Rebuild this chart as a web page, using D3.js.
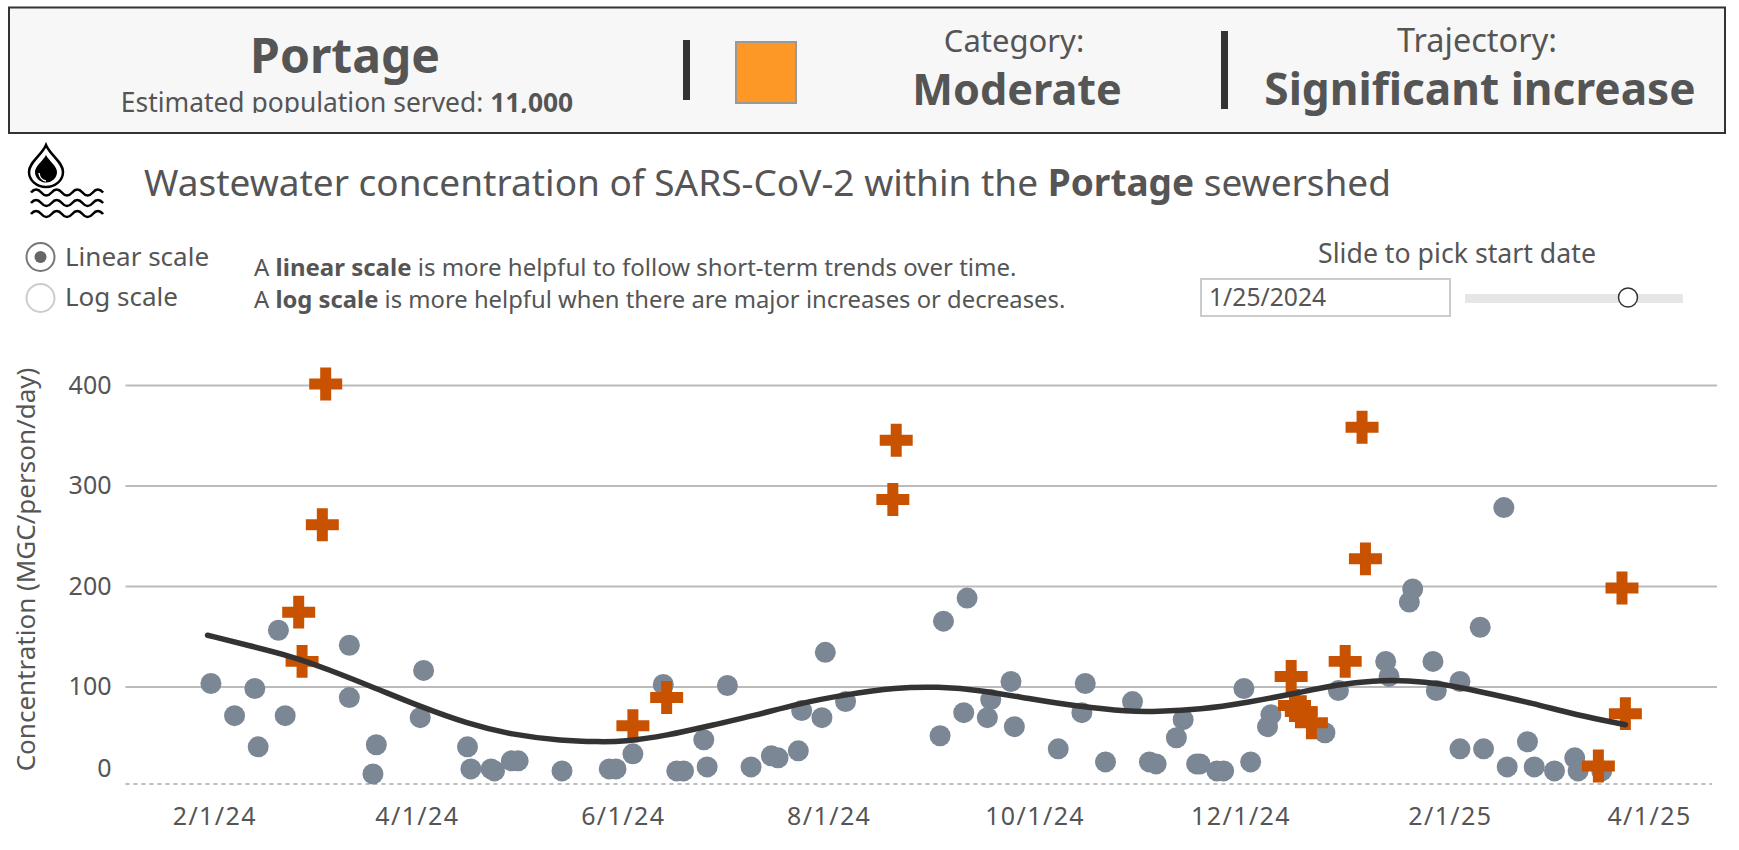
<!DOCTYPE html>
<html>
<head>
<meta charset="utf-8">
<script src="https://cdn.jsdelivr.net/npm/d3@7"></script>
<style>
    body { margin: 0; background: #fff; }
    svg text { font-family: "Noto Sans", sans-serif; fill: #555; }
</style>
</head>
<body>
<div id="chart"></div>
<script>
// values
const dotDates = ["2024-01-31","2024-02-07","2024-02-13","2024-02-14","2024-02-20","2024-02-22","2024-03-12","2024-03-12","2024-03-20","2024-03-19","2024-04-03","2024-04-02","2024-04-16","2024-04-17","2024-04-23","2024-04-24","2024-04-29","2024-05-01","2024-05-14",
    "2024-05-28","2024-05-30","2024-06-04","2024-06-13","2024-06-17","2024-06-19","2024-06-25","2024-06-26","2024-07-02","2024-07-09","2024-07-15","2024-07-17","2024-07-23","2024-07-24","2024-07-30","2024-08-06","2024-07-31",
    "2024-09-03","2024-09-04","2024-09-10","2024-09-11","2024-09-17","2024-09-18","2024-09-24","2024-09-25","2024-10-08","2024-10-15","2024-10-16","2024-10-22","2024-10-30","2024-11-04","2024-11-06","2024-11-12","2024-11-14",
    "2024-11-18","2024-11-19","2024-11-24","2024-11-26","2024-12-04","2024-12-02","2024-12-10","2024-12-09","2024-12-26","2024-12-30","2025-01-13","2025-01-14","2025-01-21","2025-01-20","2025-01-27","2025-02-04","2025-01-28",
    "2025-02-10","2025-02-17","2025-02-04","2025-02-11","2025-02-18","2025-02-24","2025-02-26","2025-03-04","2025-03-10","2025-03-11","2025-03-18"]
const dotValues = [103,71,98,40,156,71,141,89,42,13,116,69,40,18,18,16,26,26,16,
    18,18,33,102,16,16,47,20,101,20,31,29,36,76,69,85,134,
    51,165,74,188,69,87,105,60,38,74,103,25,85,25,23,49,67,
    23,23,16,16,25,98,72,60,54,96,125,110,197,184,125,105,96,
    159,278,38,38,20,45,20,16,29,16,16]

const crossDates = ["2024-03-05","2024-03-04","2024-02-26","2024-02-27","2024-06-04","2024-06-14","2024-08-21","2024-08-20","2025-01-06","2025-01-07","2025-01-01","2024-12-16","2024-12-17","2024-12-19","2024-12-22","2025-03-17","2025-03-25","2025-03-24"]
const crossValues = [401,261,174,125,61,89,345,286,358,227,125,110,81,75,64,21,73,198]

const lineDates = ["2024-01-30","2024-02-11","2024-02-24","2024-03-05","2024-03-20","2024-04-02","2024-04-16","2024-04-29","2024-05-14","2024-05-25","2024-06-01","2024-06-14","2024-06-28","2024-07-10","2024-07-23","2024-08-06","2024-08-21","2024-09-02","2024-09-16","2024-09-29","2024-10-14","2024-10-29","2024-11-06","2024-11-19","2024-12-03","2024-12-17","2024-12-30","2025-01-09","2025-01-20","2025-01-29","2025-02-10","2025-02-26","2025-03-10","2025-03-25"]
const lineValues = [151,141,130,118,98,80,63,52,46,45,45,51,62,71,83,92,99,100,96,88,80,75,75,77,84,93,102,106,106,103,95,83,72,62]

const xTickDates = ["2024-02-01","2024-04-01","2024-06-01","2024-08-01","2024-10-01","2024-12-01","2025-02-01","2025-04-01"]
const yTicks = [100,200,300,400]
const floorValue = 3
const zeroLabelValue = 18

const parse = d3.utcParse("%Y-%m-%d")
const width = 1739
const height = 850

const svg = d3.select("#chart").append("svg")
    .attr("width", width)
    .attr("height", height)
    .style("display", "block")

// ---- header box
svg.append("rect").attr("x", 9).attr("y", 7.5).attr("width", 1716).attr("height", 125.5)
    .attr("fill", "#f7f7f7").attr("stroke", "#333").attr("stroke-width", 2)

const label = (x, y, size, anchor, parts) => {
    const t = svg.append("text").attr("x", x).attr("y", y)
        .attr("font-size", size).attr("text-anchor", anchor)
    parts.forEach(p => {
        t.append("tspan").attr("font-weight", p[1] ? 700 : 400).text(p[0])
    })
    return t
}

label(345, 72.5, 48, "middle", [["Portage", true]])

svg.append("clipPath").attr("id", "pop-clip").append("rect")
    .attr("x", 100).attr("y", 85).attr("width", 500).attr("height", 28)
label(347, 112, 26.4, "middle", [["Estimated population served: ", false], ["11,000", true]])
    .attr("clip-path", "url(#pop-clip)")

svg.append("rect").attr("x", 683).attr("y", 40).attr("width", 7).attr("height", 60).attr("fill", "#333")
svg.append("rect").attr("x", 736).attr("y", 42).attr("width", 60).attr("height", 61)
    .attr("fill", "#fd9827").attr("stroke", "#999").attr("stroke-width", 2)
svg.append("rect").attr("x", 1221).attr("y", 31).attr("width", 7).attr("height", 78).attr("fill", "#333")

label(1014, 52, 31, "middle", [["Category:", false]])
label(1017, 105, 43.2, "middle", [["Moderate", true]])
label(1477, 52, 32.5, "middle", [["Trajectory:", false]])
label(1480, 105, 44.2, "middle", [["Significant increase", true]])

// ---- water icon
const icon = svg.append("g").attr("fill", "none").attr("stroke", "#000")
icon.append("path")
    .attr("d", "M46,145 C50,155 63,162 63,172 A17,15 0 0 1 29,172 C29,162 42,155 46,145 Z")
    .attr("stroke-width", 2.5)
icon.append("path")
    .attr("d", "M46,155 C49,161 57,166 57,172 A11,10.5 0 0 1 35,172 C35,166 43,161 46,155 Z")
    .attr("fill", "#000").attr("stroke", "none")
icon.append("path")
    .attr("d", "M39,173 A8,9 0 0 0 46,181")
    .attr("stroke", "#fff").attr("stroke-width", 1.5)
;[192.5, 203, 214].forEach(y => {
    let wave = `M31,${y}`
    for (let i = 0; i < 7; i++) wave += ` q5,${i % 2 ? 6 : -6} 10.3,0`
    icon.append("path").attr("d", wave).attr("stroke-width", 2.6)
})

// ---- title and controls
label(144, 196, 37, "start", [["Wastewater concentration of SARS-CoV-2 within the ", false], ["Portage", true], [" sewershed", false]])

svg.append("circle").attr("cx", 40.5).attr("cy", 257).attr("r", 14)
    .attr("fill", "#fff").attr("stroke", "#777").attr("stroke-width", 2)
svg.append("circle").attr("cx", 40.5).attr("cy", 257).attr("r", 6).attr("fill", "#666")
svg.append("circle").attr("cx", 40.5).attr("cy", 298).attr("r", 14)
    .attr("fill", "#fff").attr("stroke", "#ccc").attr("stroke-width", 2)
label(65, 266, 26, "start", [["Linear scale", false]])
label(65, 306, 26, "start", [["Log scale", false]])

label(254, 276, 24, "start", [["A ", false], ["linear scale", true], [" is more helpful to follow short-term trends over time.", false]])
label(254, 308, 23.8, "start", [["A ", false], ["log scale", true], [" is more helpful when there are major increases or decreases.", false]])

label(1457, 263, 26.7, "middle", [["Slide to pick start date", false]])
svg.append("rect").attr("x", 1201).attr("y", 279).attr("width", 249).attr("height", 37)
    .attr("fill", "#fff").attr("stroke", "#ccc").attr("stroke-width", 2)
label(1209, 306, 24.7, "start", [["1/25/2024", false]])
svg.append("rect").attr("x", 1465).attr("y", 294).attr("width", 218).attr("height", 9).attr("fill", "#e6e6e6")
svg.append("circle").attr("cx", 1628).attr("cy", 297.5).attr("r", 9.5)
    .attr("fill", "#fff").attr("stroke", "#333").attr("stroke-width", 1.5)

// ---- chart
const x = d3.scaleUtc()
    .domain([parse("2024-02-01"), parse("2025-04-01")])
    .range([214.3, 1649])
const y = d3.scaleLinear()
    .domain([0, 400])
    .range([787, 385])

const gridLeft = 125.5
const gridRight = 1717

const yAxis = svg.append("g")
    .attr("transform", `translate(${gridLeft},0)`)
    .call(d3.axisLeft(y).tickValues(yTicks).tickFormat(d3.format("d"))
        .tickSize(-(gridRight - gridLeft)).tickPadding(14))
yAxis.select(".domain").remove()
yAxis.selectAll(".tick line").attr("stroke", "#bbb").attr("stroke-width", 2)
yAxis.selectAll(".tick text").attr("font-size", 25)

svg.append("text")
    .attr("x", gridLeft - 14).attr("y", y(zeroLabelValue)).attr("dy", "0.32em")
    .attr("text-anchor", "end").attr("font-size", 25).text("0")

svg.append("line")
    .attr("x1", gridLeft).attr("x2", 1712)
    .attr("y1", y(floorValue)).attr("y2", y(floorValue))
    .attr("stroke", "#bbb").attr("stroke-width", 2).attr("stroke-dasharray", "4 4")

const xAxis = svg.append("g")
    .attr("transform", `translate(0,${y(floorValue)})`)
    .call(d3.axisBottom(x).tickValues(xTickDates.map(parse))
        .tickFormat(d3.utcFormat("%-m/%-d/%y")).tickSize(0).tickPadding(23.5))
xAxis.select(".domain").remove()
xAxis.selectAll(".tick text").attr("font-size", 25).attr("letter-spacing", 1.4)

svg.append("text")
    .attr("transform", "translate(35,569.5) rotate(-90)")
    .attr("text-anchor", "middle").attr("font-size", 26)
    .text("Concentration (MGC/person/day)")

svg.append("g").selectAll("circle")
    .data(d3.zip(dotDates, dotValues))
    .join("circle")
    .attr("cx", d => x(parse(d[0])))
    .attr("cy", d => y(d[1]))
    .attr("r", 10.5)
    .attr("fill", "#7b8794")

const crossShape = d3.symbol(d3.symbolCross, 604)
svg.append("g").selectAll("path")
    .data(d3.zip(crossDates, crossValues))
    .join("path")
    .attr("d", crossShape)
    .attr("transform", d => `translate(${x(parse(d[0]))},${y(d[1])})`)
    .attr("fill", "#c85200")

const trend = d3.line()
    .x(d => x(parse(d[0])))
    .y(d => y(d[1]))
    .curve(d3.curveBasis)
svg.append("path")
    .datum(d3.zip(lineDates, lineValues))
    .attr("d", trend)
    .attr("fill", "none")
    .attr("stroke", "#333")
    .attr("stroke-width", 5.5)
    .attr("stroke-linecap", "round")
</script>
</body>
</html>
